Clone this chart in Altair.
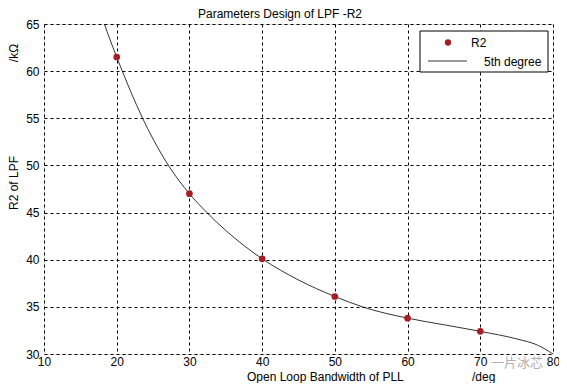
import altair as alt
import pandas as pd

# Measured points (R2 in kOhm vs open-loop bandwidth in deg)
bw_pts = [20, 30, 40, 50, 60, 70]
r2_pts = [61.5, 47.0, 40.1, 36.1, 33.8, 32.4]

# 5th-degree fit curve
fit_x = [18.3, 19, 20, 22, 23.5, 25, 27.2, 30, 32.4, 35, 37.5, 40, 45,
         50, 53.8, 60, 65, 70, 75, 78, 80]
fit_y = [65, 63.5, 61.5, 57.7, 55.1, 52.8, 49.9, 47, 45, 43.1, 41.5, 40.1, 37.85,
         36.1, 35, 33.8, 33.1, 32.4, 31.6, 30.9, 30]

x_ticks = [10, 20, 30, 40, 50, 60, 70, 80]
y_ticks = [30, 35, 40, 45, 50, 55, 60, 65]

W, H = 509, 330
FONT = "Liberation Sans"
RED = "#a61e24"

pts = pd.DataFrame({"bw": bw_pts, "r2": r2_pts})
fit = pd.DataFrame({"bw": fit_x, "r2": fit_y})
one = pd.DataFrame({"a": [0]})

xs = alt.Scale(domain=[10, 80], nice=False)
ys = alt.Scale(domain=[30, 65], nice=False)

xax = alt.Axis(values=x_ticks, title=None, grid=True, gridDash=[3, 3], gridColor="black",
               gridOpacity=1, domain=False, ticks=False, labelFont=FONT, labelFontSize=12,
               labelColor="black", labelPadding=2, labelFlush=False)
yax = alt.Axis(values=y_ticks, title=None, grid=True, gridDash=[3, 3], gridColor="black",
               gridOpacity=1, domain=False, ticks=False, labelFont=FONT, labelFontSize=12,
               labelColor="black", labelPadding=5)

line = alt.Chart(fit).mark_line(color="black", strokeWidth=0.8, interpolate="monotone", clip=True).encode(
    x=alt.X("bw:Q", scale=xs, axis=xax),
    y=alt.Y("r2:Q", scale=ys, axis=yax),
)
points = alt.Chart(pts).mark_point(filled=True, color=RED, size=45, opacity=1, shape="circle").encode(
    x=alt.X("bw:Q", scale=xs),
    y=alt.Y("r2:Q", scale=ys),
)

# legend
leg_box = alt.Chart(one).mark_rect(fill="white", stroke="black", strokeWidth=1).encode(
    x=alt.value(376), x2=alt.value(504), y=alt.value(7), y2=alt.value(48))
leg_dot = alt.Chart(one).mark_point(filled=True, color=RED, size=40, opacity=1, shape="circle").encode(
    x=alt.value(404), y=alt.value(18.5))
leg_line = alt.Chart(one).mark_rule(color="black", strokeWidth=0.8).encode(
    x=alt.value(384), x2=alt.value(423), y=alt.value(37))
leg_t1 = alt.Chart(one).mark_text(text="R2", font=FONT, fontSize=12, align="left", baseline="middle",
                                  color="black").encode(x=alt.value(427), y=alt.value(18.5))
leg_t2 = alt.Chart(one).mark_text(text="5th degree", font=FONT, fontSize=12, align="left",
                                  baseline="middle", color="black").encode(x=alt.value(440), y=alt.value(38))

# titles / labels
title = alt.Chart(one).mark_text(text="Parameters Design of LPF -R2", font=FONT, fontSize=12,
                                 align="center", baseline="middle", color="black").encode(
    x=alt.value(236), y=alt.value(-10))
ytitle = alt.Chart(one).mark_text(text="R2 of LPF", font=FONT, fontSize=12, angle=270, align="center",
                                  baseline="middle", color="black").encode(x=alt.value(-30), y=alt.value(159))
xtitle = alt.Chart(one).mark_text(text="Open Loop Bandwidth of PLL", font=FONT, fontSize=12,
                                  align="left", baseline="middle", color="black").encode(
    x=alt.value(203), y=alt.value(352.5))
xunit = alt.Chart(one).mark_text(text="/deg", font=FONT, fontSize=12, align="left",
                                 baseline="middle", color="black").encode(x=alt.value(428), y=alt.value(352.5))
yunit = alt.Chart(one).mark_text(text="/kΩ", font=FONT, fontSize=12, angle=270, align="center",
                                 baseline="middle", color="black").encode(x=alt.value(-30), y=alt.value(29))
wm = alt.Chart(one).mark_text(text="一片冰芯", font="Noto Sans CJK SC", fontSize=13, align="left",
                              baseline="middle", color="#b0b0b0").encode(x=alt.value(447), y=alt.value(339))

chart = alt.layer(line, points, leg_box, leg_dot, leg_line, leg_t1, leg_t2,
                  title, ytitle, xtitle, xunit, yunit, wm).properties(
    width=W, height=H,
    autosize=alt.AutoSizeParams(type="none"),
    padding={"left": 36, "top": 16, "right": 6, "bottom": 29},
).configure_view(stroke="black", strokeWidth=1, fill="white").configure(background="white")

chart.save("out.html", embed_options={"renderer": "svg", "actions": False})
